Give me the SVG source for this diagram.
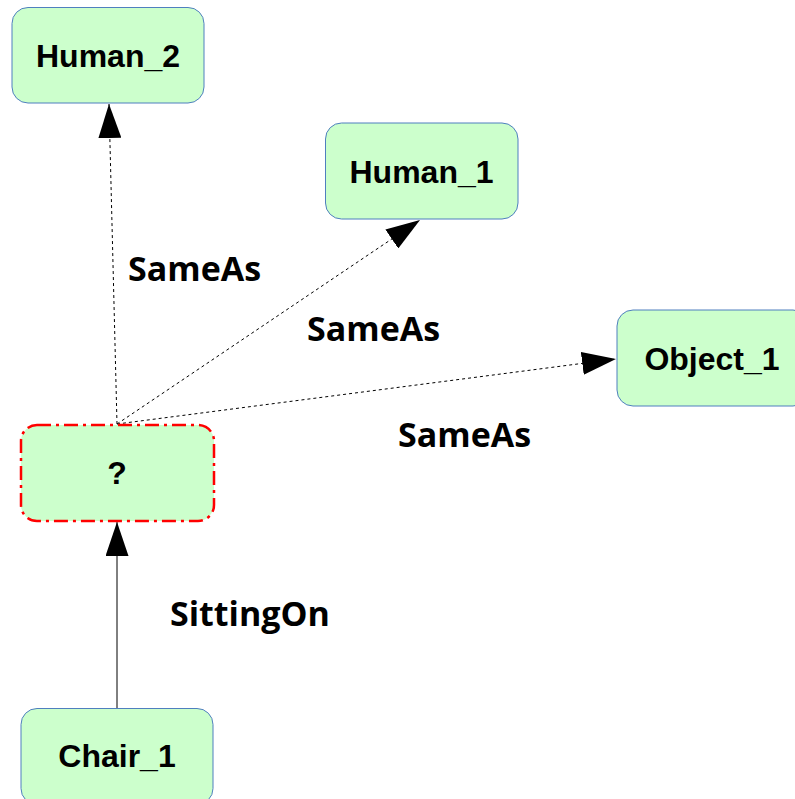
<svg xmlns="http://www.w3.org/2000/svg" width="795" height="799" viewBox="0 0 795 799">
  <style>
    .node { fill: #ccffcc; stroke: #4f7fbf; stroke-width: 1; }
    .unknown { fill: #ccffcc; stroke: #ff0000; stroke-width: 2.5; stroke-dasharray: 14 5 3 5; }
    .ntext { font-family: "Liberation Sans", Arial, sans-serif; font-weight: bold; font-size: 32px; fill: #000; text-anchor: middle; }
    .elabel { font-family: "Open Sans", "DejaVu Sans", sans-serif; font-weight: bold; font-size: 34px; fill: #000; }
    .dotted { fill: none; stroke: #000; stroke-width: 1; stroke-dasharray: 3 3; }
    .solid { fill: none; stroke: #000; stroke-width: 1; }
  </style>
  <defs>
    <marker id="arrow" viewBox="0 0 34 23" refX="34" refY="11.5" markerWidth="34" markerHeight="23" markerUnits="userSpaceOnUse" orient="auto">
      <path d="M0,0 L34,11.5 L0,23 Z" fill="#000"/>
    </marker>
  </defs>

  <rect width="795" height="799" fill="#ffffff"/>

  <g id="connectors">
    <line class="dotted" x1="117" y1="424" x2="109" y2="104" marker-end="url(#arrow)"/>
    <line class="dotted" x1="117" y1="424" x2="420" y2="220" marker-end="url(#arrow)"/>
    <line class="dotted" x1="117" y1="424" x2="616" y2="359" marker-end="url(#arrow)"/>
    <line class="solid" x1="117" y1="708" x2="117" y2="522" marker-end="url(#arrow)"/>
    <text class="elabel" x="128" y="281">SameAs</text>
    <text class="elabel" x="307" y="341">SameAs</text>
    <text class="elabel" x="398" y="447">SameAs</text>
    <text class="elabel" x="170" y="626">SittingOn</text>
  </g>

  <g id="Human_2">
    <rect class="node" x="12" y="7.5" width="192" height="95.5" rx="16" ry="16"/>
    <text class="ntext" x="108" y="67">Human_2</text>
  </g>

  <g id="Human_1">
    <rect class="node" x="325.5" y="123" width="192.5" height="96" rx="16" ry="16"/>
    <text class="ntext" x="421.5" y="182.5">Human_1</text>
  </g>

  <g id="Object_1">
    <rect class="node" x="617" y="310" width="192" height="96" rx="16" ry="16"/>
    <text class="ntext" x="712" y="370">Object_1</text>
  </g>

  <g id="Unknown">
    <rect class="unknown" x="21" y="425" width="193" height="96" rx="16" ry="16"/>
    <text class="ntext" x="117" y="484">?</text>
  </g>

  <g id="Chair_1">
    <rect class="node" x="21" y="708.5" width="192" height="96" rx="16" ry="16"/>
    <text class="ntext" x="117" y="767">Chair_1</text>
  </g>
</svg>
